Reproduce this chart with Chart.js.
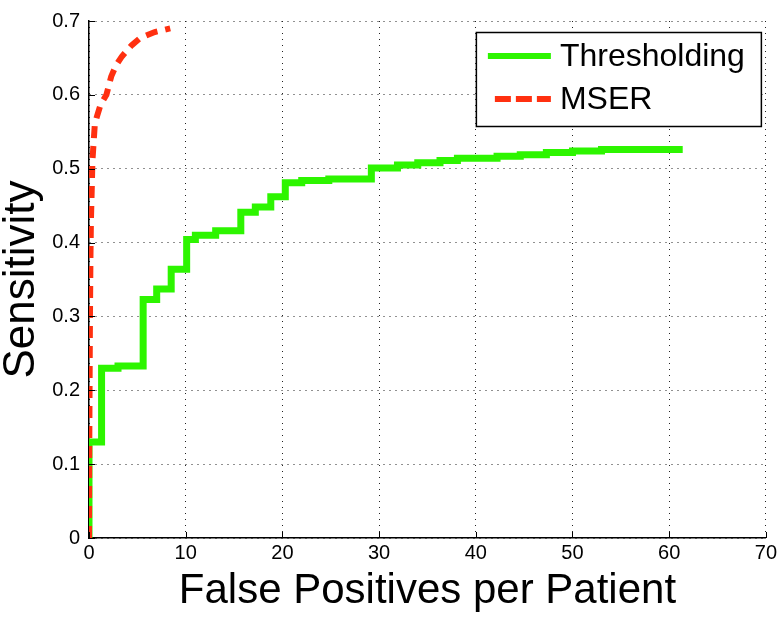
<!DOCTYPE html>
<html>
<head>
<meta charset="utf-8">
<script src="https://cdn.jsdelivr.net/npm/chart.js@4"></script>
<style>
  body { margin: 0; background: #fff; }
  canvas { display: block; }
</style>
</head>
<body>
<canvas id="rocChart" width="780" height="617"></canvas>
<script>
// Thresholding: step curve, each point is (fp where the step happens, new sensitivity)
const thrX = [0, 0, 1.3, 3.0, 5.6, 7.0, 8.5, 10.1, 11.0, 13.1, 15.7, 17.2, 18.8, 20.3, 22.0, 24.8, 29.2, 31.9, 34.0, 36.3, 38.1, 42.2, 44.6, 47.3, 50.0, 53.0, 61.4];
const thrY = [0, 0.13, 0.23, 0.233, 0.323, 0.337, 0.364, 0.404, 0.41, 0.416, 0.441, 0.448, 0.462, 0.481, 0.484, 0.486, 0.501, 0.505, 0.508, 0.511, 0.514, 0.517, 0.519, 0.522, 0.524, 0.526, 0.526];

// MSER curve
const mserX = [0, 0.02, 0.05, 0.1, 0.15, 0.2, 0.3, 0.35, 0.45, 0.6, 0.85, 1.2, 1.8, 2.3, 2.8, 3.4, 4.4, 5.3, 6.8, 8.4];
const mserY = [0, 0.1, 0.18, 0.3, 0.38, 0.43, 0.48, 0.51, 0.53, 0.56, 0.572, 0.587, 0.6, 0.625, 0.64, 0.652, 0.667, 0.677, 0.685, 0.69];

const xTicks = [0, 10, 20, 30, 40, 50, 60, 70];
const yTicks = [0, 0.1, 0.2, 0.3, 0.4, 0.5, 0.6, 0.7];

const GREEN = 'rgb(45,245,0)';
const RED = 'rgb(255,48,16)';
const FONT = '"Liberation Sans", Arial, sans-serif';

const toPoints = (xs, ys) => xs.map((x, i) => ({ x: x, y: ys[i] }));

// legend box in the top right corner + small inner tick marks
const legendBox = {
    id: 'legendBox',
    afterDraw(chart) {
        const ctx = chart.ctx;
        const area = chart.chartArea;
        const xs = chart.scales.x, ys = chart.scales.y;

        ctx.save();
        ctx.strokeStyle = '#000';
        ctx.lineWidth = 1;
        ctx.beginPath();
        xTicks.forEach(t => {
            const px = Math.round(xs.getPixelForValue(t)) + 0.5;
            ctx.moveTo(px, area.bottom);
            ctx.lineTo(px, area.bottom - 6);
        });
        yTicks.forEach(t => {
            const py = Math.round(ys.getPixelForValue(t)) + 0.5;
            ctx.moveTo(area.left, py);
            ctx.lineTo(area.left + 6, py);
        });
        ctx.stroke();

        const bx = area.right - 290, by = area.top + 11, bw = 285, bh = 94;
        ctx.fillStyle = '#fff';
        ctx.fillRect(bx, by, bw, bh);
        ctx.strokeStyle = '#000';
        ctx.lineWidth = 1.5;
        ctx.strokeRect(bx + 0.5, by + 0.5, bw, bh);

        const items = [
            { label: 'Thresholding', color: GREEN, dash: [], y: by + 24, x0: bx + 12 },
            { label: 'MSER', color: RED, dash: [16, 5], y: by + 67, x0: bx + 19 }
        ];
        items.forEach(it => {
            ctx.strokeStyle = it.color;
            ctx.lineWidth = 6;
            ctx.setLineDash(it.dash);
            ctx.beginPath();
            ctx.moveTo(it.x0, it.y);
            ctx.lineTo(bx + 75, it.y);
            ctx.stroke();
            ctx.setLineDash([]);
            ctx.fillStyle = '#000';
            ctx.font = '32px ' + FONT;
            ctx.textBaseline = 'middle';
            ctx.textAlign = 'left';
            ctx.fillText(it.label, bx + 84, it.y + 1);
        });
        ctx.restore();
    }
};

const config = {
    type: 'line',
    data: {
        datasets: [
            {
                label: 'Thresholding',
                data: toPoints(thrX, thrY),
                borderColor: GREEN,
                borderWidth: 7,
                stepped: true,
                pointRadius: 0,
                fill: false,
                order: 1
            },
            {
                label: 'MSER',
                data: toPoints(mserX, mserY),
                borderColor: RED,
                borderWidth: 6,
                borderDash: [12, 8],
                tension: 0,
                pointRadius: 0,
                fill: false,
                order: 0
            }
        ]
    },
    options: {
        responsive: false,
        animation: false,
        layout: { padding: { top: 12, right: 12, left: 0, bottom: 0 } },
        plugins: {
            legend: { display: false },
            tooltip: { enabled: false }
        },
        scales: {
            x: {
                type: 'linear',
                min: 0,
                max: 70,
                afterFit: s => { s.height = 79; },
                afterBuildTicks: s => { s.ticks = xTicks.map(v => ({ value: v })); },
                ticks: {
                    color: '#000',
                    font: { family: FONT, size: 20 },
                    padding: 3,
                    maxRotation: 0
                },
                grid: {
                    color: '#222',
                    lineWidth: 1,
                    drawTicks: false
                },
                border: { display: true, color: '#000', width: 1.5, dash: [1, 5] },
                title: {
                    display: true,
                    text: 'False Positives per Patient',
                    color: '#000',
                    font: { family: FONT, size: 42, lineHeight: 1 },
                    padding: { top: 0, bottom: 5 }
                }
            },
            y: {
                type: 'linear',
                min: 0,
                max: 0.7,
                afterFit: s => { s.width = 89; },
                afterBuildTicks: s => { s.ticks = yTicks.map(v => ({ value: v })); },
                ticks: {
                    color: '#000',
                    font: { family: FONT, size: 20 },
                    padding: 9,
                    callback: v => (v === 0 ? '0' : v.toFixed(1))
                },
                grid: {
                    color: '#222',
                    lineWidth: 1,
                    drawTicks: false
                },
                border: { display: true, color: '#000', width: 1.5, dash: [1, 5] },
                title: {
                    display: true,
                    text: 'Sensitivity',
                    color: '#000',
                    font: { family: FONT, size: 44, lineHeight: 1 },
                    padding: { top: 0, bottom: 0 }
                }
            }
        }
    },
    plugins: [legendBox]
};

const ctx = document.getElementById('rocChart').getContext('2d');
const rocChart = new Chart(ctx, config);
</script>
</body>
</html>
